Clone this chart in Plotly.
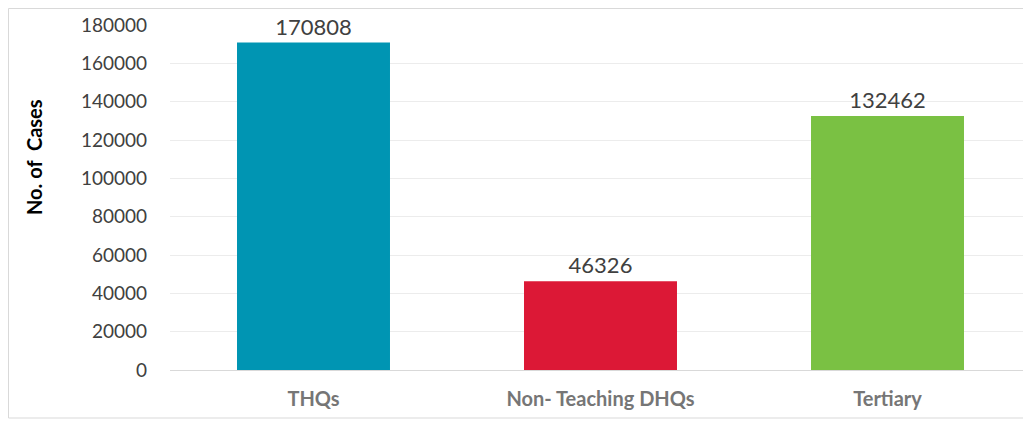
import plotly.graph_objects as go

categories = ["THQs", "Non- Teaching DHQs", "Tertiary"]
cases = [170808, 46326, 132462]
bar_colors = ["#0095B3", "#DC1836", "#7AC143"]
y_ticks = [0, 20000, 40000, 60000, 80000, 100000, 120000, 140000, 160000, 180000]

W, H = 1023, 414
L, T, B = 162, 17, 52
plot_h = H - T - B

fig = go.Figure()
fig.add_trace(go.Bar(
    x=categories,
    y=cases,
    marker=dict(color=bar_colors, line=dict(width=0)),
    width=0.533,
    text=[str(v) for v in cases],
    textposition="outside",
    textfont=dict(family="Lato", size=22, color="#404040"),
    cliponaxis=False,
))

fig.update_layout(
    width=W,
    height=H,
    margin=dict(l=L, r=0, t=T, b=B),
    paper_bgcolor="white",
    plot_bgcolor="white",
    showlegend=False,
    font=dict(family="Lato", color="#404040"),
    xaxis=dict(
        showgrid=False,
        showline=False,
        ticks="",
        ticklabelstandoff=15,
        tickfont=dict(family="Lato", size=20, color="#767676", weight="bold"),
    ),
    yaxis=dict(
        range=[0, 180000],
        tickvals=y_ticks,
        ticktext=[str(v) for v in y_ticks],
        showgrid=True,
        gridcolor="#ECECEC",
        gridwidth=1,
        zeroline=True,
        zerolinecolor="#D9D9D9",
        zerolinewidth=1,
        ticks="",
        ticklabelstandoff=22,
        tickfont=dict(family="Lato", size=19, color="#404040"),
    ),
)

fig.add_annotation(
    text="<b>No. of  Cases</b>", textangle=-90,
    xref="paper", yref="paper",
    x=(26 - L) / (W - L), y=(T + plot_h - 149) / plot_h,
    xanchor="center", yanchor="middle", showarrow=False,
    font=dict(family="Lato", size=20, color="#000000"),
)

fig.add_shape(type="rect", xref="paper", yref="paper",
              x0=(0.5 - L) / (W - L), x1=1.1,
              y0=(T + plot_h - (H - 4)) / plot_h, y1=(T + plot_h - 0.5) / plot_h,
              line=dict(color="#D9D9D9", width=1), fillcolor="rgba(0,0,0,0)", layer="below")

fig.write_html("out.html")
